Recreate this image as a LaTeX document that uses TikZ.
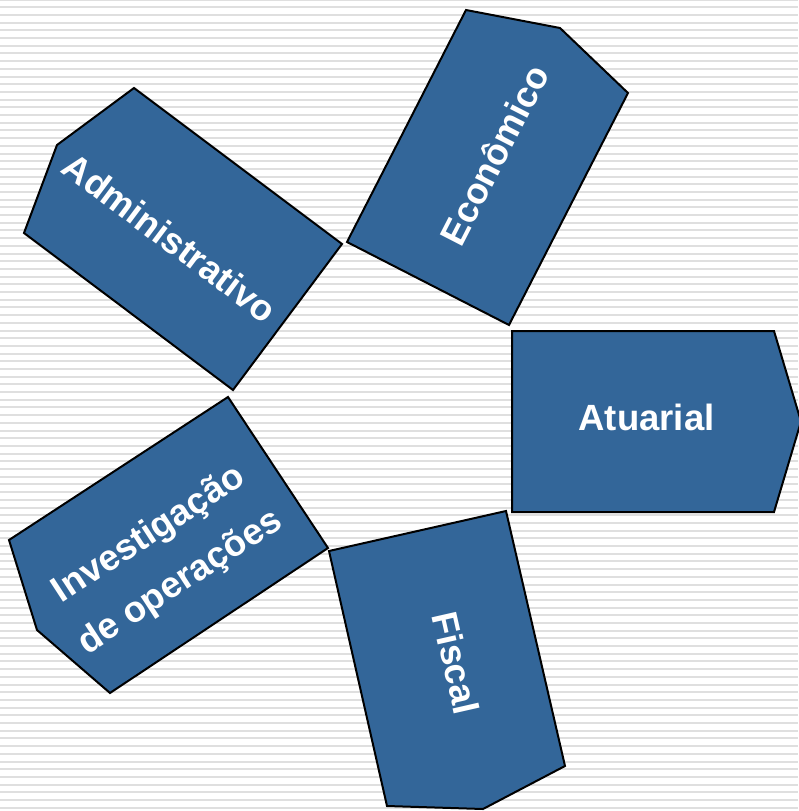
\documentclass[tikz,border=0pt]{standalone}
\usepackage{fontspec}
\setmainfont{Liberation Sans}
\definecolor{boxblue}{HTML}{336699}
\begin{document}
\begin{tikzpicture}[x=1pt,y=-1pt,
  petal/.style={fill=boxblue,draw=black,line width=2pt,line join=miter},
  lbl/.style={text=white,font=\fontsize{36.5}{57}\selectfont\bfseries,align=center,inner sep=0pt},
  stripe/.style={draw=gray!25,line width=2pt}]
\useasboundingbox (0,0) rectangle (798,811);
\fill[white] (0,0) rectangle (798,811);
\foreach \k in {0,...,105} \draw[stripe] (0,{-0.4+7.696*\k}) -- (798,{-0.4+7.696*\k});
% Atuarial
\draw[petal] (512,331) -- (774,331) -- (801,421.5) -- (774,512) -- (512,512) -- cycle;
\node[lbl] (atuarial) at (646.5,417) {Atuarial};
% Economico
\draw[petal] (466,10) -- (560,28) -- (628,93) -- (509,325) -- (347,242) -- cycle;
\node[lbl,rotate=62.8] (economico) at (494,155) {Econômico};
% Administrativo
\draw[petal] (134,88) -- (342,244) -- (233,390) -- (24,233) -- (57,145) -- cycle;
\node[lbl,rotate=-36.9] (administrativo) at (170,237.5) {Administrativo};
% Investigacao
\draw[petal] (228,397) -- (328,548) -- (110,693) -- (37,630) -- (9,540) -- cycle;
\node[lbl,rotate=33.1] (investigacao) at (165,559) {Investigação\\de operações};
% Fiscal
\draw[petal] (329,551) -- (506,511) -- (565,766) -- (483,809) -- (387,806) -- cycle;
\node[lbl,rotate=-77.2] (fiscal) at (456,663) {Fiscal};
\end{tikzpicture}
\end{document}
